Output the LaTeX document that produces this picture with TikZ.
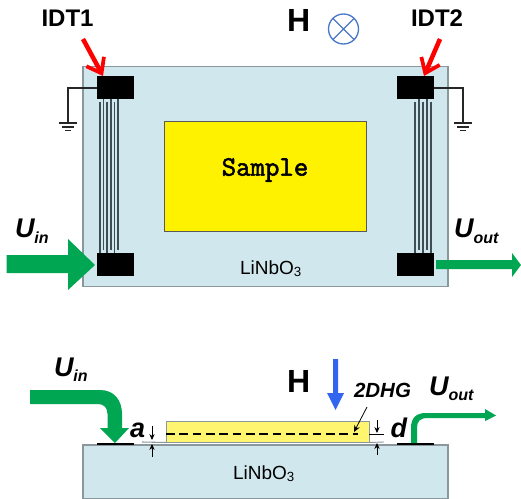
\documentclass[tikz,border=0pt]{standalone}
\usepackage{fontspec}
\setmainfont{Liberation Sans}
\newfontfamily\samplefont[FakeBold=2]{Latin Modern Mono}
\usetikzlibrary{arrows.meta}
\definecolor{subst}{HTML}{D1E7EE}
\definecolor{edgegray}{HTML}{8A979C}
\definecolor{grn}{HTML}{00A651}
\definecolor{hblue}{HTML}{3366EE}
\definecolor{ringblue}{HTML}{4A78C8}
\definecolor{lyellow}{HTML}{FFF56E}
\definecolor{fingercol}{HTML}{3F4E56}
\newcommand{\pxs}[1]{\fontsize{\dimexpr#1pt*3/4\relax}{\dimexpr#1pt\relax}\selectfont}
\newcommand{\sublab}[2]{\textbf{\textit{\pxs{27}#1\raisebox{-0.2em}{\pxs{16}#2}}}}
\tikzset{
 x=0.75pt,y=-0.75pt,
 every node/.style={inner sep=0pt,outer sep=0pt},
 chip/.style={draw=edgegray,fill=subst,line width=1pt},
 pad/.style={fill=black,draw=none,anchor=north west,minimum width=27.75pt,minimum height=17.25pt},
 lab/.style={anchor=base west,font=\pxs{24}\bfseries},
 biglab/.style={anchor=base west,font=\pxs{32}\bfseries},
 substlab/.style={anchor=base west,font=\pxs{19}},
 finger/.style={draw=fingercol,line width=0.9pt},
 wire/.style={draw=black!85,line width=1pt},
 gnd/.style={draw=black!85,line width=1pt},
 redarrow/.style={draw=red,line width=3.4pt,-{Straight Barb[length=10pt,width=15pt,line width=2.8pt]}},
 green/.style={fill=grn,draw=none},
 dim/.style={draw=black,line width=0.6pt,-{Stealth[length=4.5pt,width=4pt]}},
}
\begin{document}
\begin{tikzpicture}
\useasboundingbox (0,0) rectangle (521,499);
% top view
\node[chip,anchor=north west,minimum width=273.75pt,minimum height=165pt] (chipT) at (83,66.5) {};
\node[fill=yellow,draw=black!65,line width=0.7pt,anchor=north west,minimum width=151.5pt,minimum height=82.5pt] (sampleT) at (164.5,121.5) {};
\node[font=\pxs{28}\samplefont] (sampletxt) at (265,170) {Sample};
\node[substlab] (linT) at (240,274) {LiNbO\textsubscript{3}};
\node[pad] (p1) at (97,76.5) {};
\node[pad] (p2) at (397,76.5) {};
\node[pad] (p3) at (97,253) {};
\node[pad] (p4) at (397,253) {};
% fingers
\foreach \xx in {100,107,114.5}{\draw[finger] (\xx,102) -- (\xx,253);}
\foreach \xx in {103.5,111,118}{\draw[finger] (\xx,99) -- (\xx,250);}
\foreach \xx in {415,423,431}{\draw[finger] (\xx,102) -- (\xx,253);}
\foreach \xx in {419,427}{\draw[finger] (\xx,99) -- (\xx,250);}
% grounds
\coordinate (g1) at (68,123);
\coordinate (g2) at (463,123);
\draw[wire] (p1.west) -| (g1);
\draw[wire] (p2.east) -| (g2);
\foreach \c in {g1,g2}{
 \draw[gnd] ([xshift=-9pt*0.75]\c) -- ([xshift=9pt*0.75]\c);
 \draw[gnd] ([xshift=-6pt*0.75,yshift=-3pt]\c) -- ([xshift=6pt*0.75,yshift=-3pt]\c);
 \draw[gnd] ([xshift=-3pt*0.75,yshift=-5.5pt]\c) -- ([xshift=3pt*0.75,yshift=-5.5pt]\c);
}
% labels top
\node[lab] (idt1) at (41.5,26.5) {IDT1};
\node[lab] (idt2) at (411,26.5) {IDT2};
\node[biglab] (h1) at (287,32) {H};
\node[draw=ringblue,circle,line width=1pt,minimum size=22.5pt] (ring) at (343.5,29) {};
\draw[ringblue,line width=1pt] (ring.north west) -- (ring.south east) (ring.north east) -- (ring.south west);
\coordinate (r1) at (83,39);
\coordinate (r2) at (440,39);
\draw[redarrow] (r1) -- (103,76);
\draw[redarrow] (r2) -- (424,76);
% U in/out top
\node[lab] (uin1) at (15,238) {\sublab{U}{in}};
\node[lab] (uout1) at (454,238) {\sublab{U}{out}};
\path[green] (6.5,255) -- (68,255) -- (68,239) -- (95,265) -- (68,290) -- (68,273) -- (6.5,273) -- cycle;
\path[green] (436,260) -- (512,260) -- (512,253) -- (521,265) -- (512,277) -- (512,269) -- (436,269) -- cycle;
% side view
\node[chip,anchor=north west,minimum width=273.75pt,minimum height=40.5pt] (chipS) at (83,445) {};
\node[fill=lyellow,draw=edgegray,line width=0.7pt,anchor=north west,minimum width=152.25pt,minimum height=15.75pt] (sampleS) at (166,421.5) {};
\node[substlab] (linS) at (233,479) {LiNbO\textsubscript{3}};
\draw[black,line width=1pt,dash pattern=on 6.5pt off 3.5pt] (sampleS.west |- 0,434) -- (358,434);
\draw[black,line width=1.1pt] (97,444) -- (134,444);
\draw[black,line width=1.1pt] (397,444) -- (434,444);
\draw[edgegray,line width=0.8pt] (142,442) -- (sampleS.south west);
\draw[black,line width=0.7pt] (sampleS.east |- 0,434) -- (384,434);
\draw[edgegray,line width=0.7pt] (sampleS.south east) -- (384,442);
% dim arrows
\draw[dim] (152,426) -- (152,440);
\draw[dim] (152,457) -- (152,444);
\draw[dim] (377,420) -- (377,433);
\draw[dim] (377,455) -- (377,443);
\node[lab,font=\pxs{27}\bfseries\itshape] (a) at (130,437) {a};
\node[lab,font=\pxs{27}\bfseries\itshape] (d) at (390.5,437) {d};
\node[lab,font=\pxs{20.5}\bfseries\itshape] (dhg) at (354,397) {2DHG};
\coordinate (lead) at (367,407);
\draw[black,line width=0.6pt,-{Stealth[length=5pt,width=4.5pt]}] (lead) -- (354,432);
\node[biglab] (h2) at (287,392) {H};
\path[fill=hblue] (333,359) -- (338,359) -- (338,393) -- (344,393) -- (335.5,410) -- (327,393) -- (333,393) -- cycle;
\node[lab] (uin2) at (54,376) {\sublab{U}{in}};
\node[lab] (uout2) at (429,395) {\sublab{U}{out}};
\path[green] (30,390) -- (100,390) .. controls (114,390) and (122,400) .. (122,414) -- (122,428) -- (129,428) -- (115,443) -- (100,428) -- (107.5,428) -- (107.5,414) .. controls (107.5,408) and (104,404) .. (98,404) -- (30,404) -- cycle;
\path[green] (411,443) -- (411,428) .. controls (411,418) and (416,413) .. (426,413) -- (485,413) -- (485,409) -- (496,415.5) -- (485,421) -- (485,418) -- (428,418) .. controls (420,418) and (417,421) .. (417,428) -- (417,443) -- cycle;
\end{tikzpicture}
\end{document}
